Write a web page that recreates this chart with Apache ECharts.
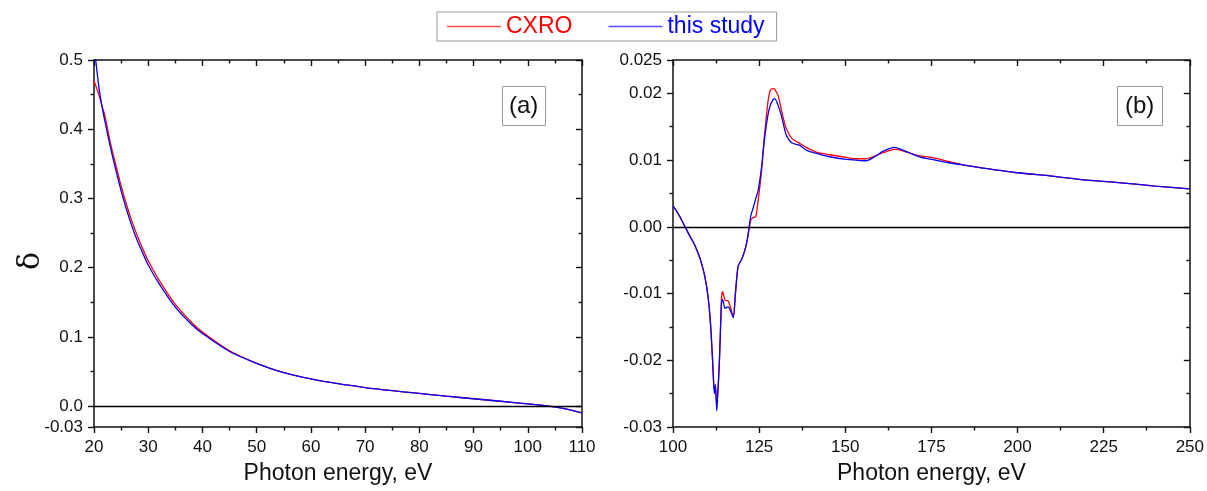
<!DOCTYPE html>
<html>
<head>
<meta charset="utf-8">
<script src="https://cdn.jsdelivr.net/npm/echarts@6/dist/echarts.min.js"></script>
<style>
html,body{margin:0;padding:0;background:#fff;}
#chart{width:1207px;height:491px;}
</style>
</head>
<body>
<div id="chart"></div>
<script>
// ---------- Data ----------
const seriesNames = ['CXRO', 'this study'];

// Panel (a)
const energyA = [20, 20.5, 21, 21.5, 22, 23, 24, 25, 26, 27, 28, 29, 30, 32, 35, 38, 40, 45, 50, 55, 60, 65, 70, 75, 80, 85, 90, 95, 100, 103.5, 106, 110];
const cxroA   = [0.470, 0.459, 0.447, 0.433, 0.420, 0.381, 0.349, 0.318, 0.291, 0.267, 0.246, 0.227, 0.210, 0.182, 0.147, 0.121, 0.107, 0.080, 0.062, 0.0485, 0.0395, 0.0325, 0.027, 0.0225, 0.0185, 0.0145, 0.0108, 0.0072, 0.0033, 0.0005, -0.0025, -0.0095];
const studyA  = [0.522, 0.487, 0.455, 0.432, 0.412, 0.375, 0.342, 0.311, 0.284, 0.260, 0.239, 0.221, 0.204, 0.177, 0.143, 0.118, 0.105, 0.079, 0.062, 0.0485, 0.0395, 0.0325, 0.027, 0.0225, 0.0185, 0.0145, 0.0108, 0.0072, 0.0033, 0.0005, -0.0025, -0.0095];

// Panel (b)
const energyB = [100, 101, 102, 103.5, 105, 106, 107, 108, 109.3, 110.2, 110.9, 111.5, 112.0, 112.3, 112.7, 113.1, 113.4, 113.8, 114.1, 114.4, 115.1, 116.0, 116.7, 117.5, 118.1, 118.9, 119.9, 120.8, 121.5, 122.1, 122.6, 123.3, 124.0, 124.7, 125.7, 126.6, 127.6, 128.3, 129.1, 129.5, 130.5, 131.5, 132.4, 132.9, 134.4, 136.8, 138.7, 141.6, 145.5, 150.3, 153, 156, 158.5, 160.9, 164.3, 166.7, 169.6, 172, 175, 180, 185, 190, 200, 210, 220, 230, 240, 250];
const cxroB   = [0.0031, 0.0024, 0.0015, 0.0, -0.0015, -0.0024, -0.0036, -0.0050, -0.0076, -0.0106, -0.0146, -0.0201, -0.0245, -0.0240, -0.0266, -0.0240, -0.0210, -0.0151, -0.0105, -0.0097, -0.0110, -0.0111, -0.0121, -0.0136, -0.0101, -0.0059, -0.0049, -0.0036, -0.0021, -0.0003, 0.0010, 0.0014, 0.0015, 0.0039, 0.0084, 0.0139, 0.0189, 0.0205, 0.0207, 0.0206, 0.0197, 0.0174, 0.0155, 0.0147, 0.0133, 0.0125, 0.0119, 0.0112, 0.0108, 0.0104, 0.0102, 0.0102, 0.0106, 0.0111, 0.0116, 0.0114, 0.0109, 0.0106, 0.0104, 0.0098, 0.0092, 0.0088, 0.0081, 0.0076, 0.0070, 0.0066, 0.0061, 0.0057];
const studyB  = [0.0031, 0.0024, 0.0015, 0.0, -0.0015, -0.0024, -0.0036, -0.0050, -0.0076, -0.0106, -0.0146, -0.0201, -0.0250, -0.0236, -0.0276, -0.0240, -0.0210, -0.0151, -0.0113, -0.0109, -0.0122, -0.0120, -0.0126, -0.0136, -0.0101, -0.0059, -0.0049, -0.0036, -0.0021, 0.0, 0.0017, 0.0029, 0.0042, 0.0054, 0.0089, 0.0134, 0.0169, 0.0183, 0.0191, 0.0192, 0.0182, 0.0166, 0.0146, 0.0137, 0.0126, 0.0122, 0.0115, 0.0110, 0.0105, 0.0101, 0.0100, 0.0099, 0.0105, 0.0113, 0.0119, 0.0115, 0.0109, 0.0104, 0.0101, 0.0096, 0.0092, 0.0088, 0.0081, 0.0076, 0.0070, 0.0066, 0.0061, 0.0057];

// Tick values / labels
const yTicksA  = [-0.03, 0, 0.1, 0.2, 0.3, 0.4, 0.5];
const yLabelsA = ['-0.03', '0.0', '0.1', '0.2', '0.3', '0.4', '0.5'];
const yMinorA  = [0.05, 0.15, 0.25, 0.35, 0.45];
const yTicksB  = [-0.03, -0.02, -0.01, 0, 0.01, 0.02, 0.025];
const yLabelsB = ['-0.03', '-0.02', '-0.01', '0.00', '0.01', '0.02', '0.025'];
const yMinorB  = [-0.025, -0.015, -0.005, 0.005, 0.015];
const xTitle = 'Photon energy, eV';
const yTitle = 'δ';
const panelLabels = ['(a)', '(b)'];

// ---------- Chart ----------
const FONT = "'Liberation Sans', Arial, sans-serif";
const AXC = '#111';
const RED = '#ff0000', BLUE = '#0000ff';

function fmt(ticks, labels) {
  return function (v) {
    for (let i = 0; i < ticks.length; i++) if (Math.abs(ticks[i] - v) < 1e-9) return labels[i];
    return '';
  };
}
const tickStyle = { color: AXC, width: 1.4 };

function xAxes(grid, min, max, interval) {
  const base = {
    gridIndex: grid, type: 'value', min: min, max: max, interval: interval,
    splitLine: { show: false },
    axisLine: { show: true, onZero: false, lineStyle: { color: AXC, width: 1.5 } },
    minorTick: { show: true, splitNumber: 2, length: 3.5, lineStyle: tickStyle },
    minorSplitLine: { show: false }
  };
  return [
    Object.assign({}, base, {
      position: 'bottom',
      axisTick: { show: true, inside: false, length: 6, lineStyle: tickStyle },
      axisLabel: { show: true, color: '#111', fontSize: 17, fontFamily: FONT, margin: 12 },
      name: xTitle, nameLocation: 'middle', nameGap: 35,
      nameTextStyle: { fontSize: 23, color: '#111', fontFamily: FONT }
    }),
    Object.assign({}, base, {
      position: 'top',
      axisTick: { show: true, inside: true, length: 6, lineStyle: tickStyle },
      axisLabel: { show: false }
    })
  ];
}

function yAxes(grid, min, max, ticks, labels, minors) {
  const base = {
    gridIndex: grid, type: 'value', min: min, max: max,
    splitLine: { show: false },
    axisLine: { show: true, onZero: false, lineStyle: { color: AXC, width: 1.5 } }
  };
  const left = Object.assign({}, base, {
    position: 'left',
    axisTick: { show: true, inside: false, length: 6, customValues: ticks, lineStyle: tickStyle },
    axisLabel: { show: true, customValues: ticks, formatter: fmt(ticks, labels), color: '#111', fontSize: 17, fontFamily: FONT, margin: 11 }
  });
  const leftMinor = Object.assign({}, base, {
    position: 'left',
    axisLine: { show: false, onZero: false },
    axisTick: { show: true, inside: false, length: 3.5, customValues: minors, lineStyle: tickStyle },
    axisLabel: { show: false }
  });
  const right = Object.assign({}, base, {
    position: 'right',
    axisTick: { show: true, inside: true, length: 6, customValues: ticks, lineStyle: tickStyle },
    axisLabel: { show: false }
  });
  const rightMinor = Object.assign({}, base, {
    position: 'right',
    axisLine: { show: false, onZero: false },
    axisTick: { show: true, inside: true, length: 3.5, customValues: minors, lineStyle: tickStyle },
    axisLabel: { show: false }
  });
  return [left, leftMinor, right, rightMinor];
}

function zeroLine() {
  return {
    silent: true, symbol: 'none', label: { show: false },
    lineStyle: { color: '#000', width: 1.3, type: 'solid' },
    data: [{ yAxis: 0 }]
  };
}

function lineSeries(name, color, xIdx, yIdx, xs, ys, smooth, withZero) {
  const s = {
    name: name, type: 'line', xAxisIndex: xIdx, yAxisIndex: yIdx,
    data: xs.map((x, i) => [x, ys[i]]),
    showSymbol: false, symbol: 'none', smooth: smooth, clip: true,
    lineStyle: { color: color, width: 1.3 }, itemStyle: { color: color },
    animation: false, z: color === BLUE ? 3 : 2
  };
  if (withZero) s.markLine = zeroLine();
  return s;
}

const chart = echarts.init(document.getElementById('chart'), null, { renderer: 'canvas' });
chart.setOption({
  backgroundColor: '#fff',
  animation: false,
  textStyle: { fontFamily: FONT },
  grid: [
    { left: 94, top: 60, width: 488, height: 367 },
    { left: 673, top: 60, width: 518, height: 367 }
  ],
  legend: {
    left: 437, top: 12,
    data: [
      { name: seriesNames[0], icon: 'rect', itemStyle: { color: '#ff5050' }, textStyle: { color: RED } },
      { name: seriesNames[1], icon: 'rect', itemStyle: { color: '#5050ff' }, textStyle: { color: BLUE } }
    ],
    itemWidth: 54, itemHeight: 1.6, itemGap: 36,
    padding: [3, 12, 3, 10],
    borderColor: '#999', borderWidth: 1,
    textStyle: { fontSize: 23, fontFamily: FONT }
  },
  title: [
    { text: panelLabels[0], left: 502, top: 86, padding: [8, 7], borderColor: '#999', borderWidth: 1,
      textStyle: { fontSize: 24, fontWeight: 'normal', color: '#111', fontFamily: FONT } },
    { text: panelLabels[1], left: 1117, top: 86, padding: [8, 8], borderColor: '#999', borderWidth: 1,
      textStyle: { fontSize: 24, fontWeight: 'normal', color: '#111', fontFamily: FONT } }
  ],
  graphic: [
    { type: 'text', left: 16, top: 252, rotation: Math.PI / 2,
      style: { text: yTitle, fontSize: 30, fill: '#111', fontFamily: "'DejaVu Serif', serif" } }
  ],
  xAxis: [].concat(xAxes(0, 20, 110, 10), xAxes(1, 100, 250, 25)),
  yAxis: [].concat(
    yAxes(0, -0.03, 0.5, yTicksA, yLabelsA, yMinorA),
    yAxes(1, -0.03, 0.025, yTicksB, yLabelsB, yMinorB)
  ),
  series: [
    lineSeries(seriesNames[0], RED, 0, 0, energyA, cxroA, 0.3, true),
    lineSeries(seriesNames[1], BLUE, 0, 0, energyA, studyA, 0.3, false),
    lineSeries(seriesNames[0], RED, 2, 4, energyB, cxroB, 0.25, true),
    lineSeries(seriesNames[1], BLUE, 2, 4, energyB, studyB, 0.25, false)
  ]
});
</script>
</body>
</html>
